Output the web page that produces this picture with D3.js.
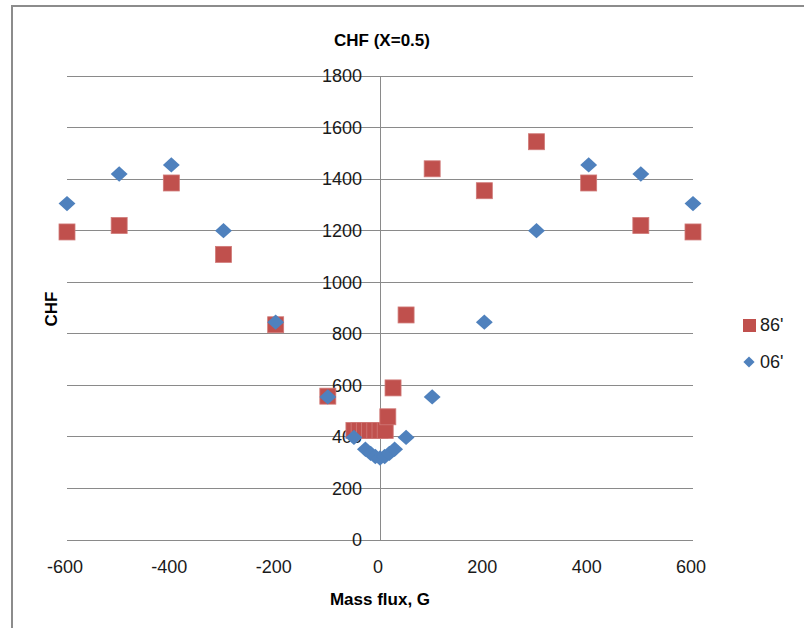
<!DOCTYPE html>
<html>
<head>
<meta charset="utf-8">
<script src="https://cdn.jsdelivr.net/npm/d3@7"></script>
<style>
body { margin: 0; background: white; }
</style>
</head>
<body>
<svg id="mySVG" width="804" height="628"></svg>
<script>
//---data---
var TitleText = "CHF (X=0.5)"
var XTitle = "Mass flux, G"
var YTitle = "CHF"
var XTicks = [-600, -400, -200, 0, 200, 400, 600]
var YTicks = [0, 200, 400, 600, 800, 1000, 1200, 1400, 1600, 1800]

var G86 = [-600, -500, -400, -300, -200, -100, -50, -40, -30, -20, -10, 0, 10, 15, 25, 50, 100, 200, 300, 400, 500, 600]
var CHF86 = [1195, 1220, 1385, 1108, 835, 558, 425, 425, 425, 425, 425, 425, 425, 478, 590, 873, 1440, 1355, 1545, 1385, 1220, 1195]

var G06 = [-600, -500, -400, -300, -200, -100, -50, -28, -18, -9, 0, 9, 18, 28, 50, 100, 200, 300, 400, 500, 600]
var CHF06 = [1305, 1420, 1455, 1200, 845, 555, 398, 352, 336, 324, 318, 324, 336, 352, 398, 555, 845, 1200, 1455, 1420, 1305]

var Red = "#C0504D"
var Blue = "#4F81BD"
var GridCol = "#8a8a8a"
var Font = "'Liberation Sans', Arial, sans-serif"

var MySVG = d3.select("#mySVG")

//---outer chart frame (only top/left visible)---
MySVG.append("path")
.attr("d", "M12,640 V6 H810")
.attr("fill", "none")
.attr("stroke", "#8c8c8c")
.attr("stroke-width", 2)

var X = d3.scaleLinear().domain([-600, 600]).range([67, 693])
var Y = d3.scaleLinear().domain([0, 1800]).range([540, 76])

//---horizontal gridlines---
var GridG = MySVG.append("g").attr("id", "gridG")
GridG.selectAll("line")
.data(YTicks)
.join("line")
.attr("x1", X(-600))
.attr("x2", X(600))
.attr("y1", function(d){ return Y(d) })
.attr("y2", function(d){ return Y(d) })
.attr("stroke", GridCol)
.attr("stroke-width", 1)
.attr("shape-rendering", "crispEdges")

//---vertical axis at G=0---
MySVG.append("line")
.attr("x1", X(0))
.attr("x2", X(0))
.attr("y1", Y(1800))
.attr("y2", Y(0))
.attr("stroke", GridCol)
.attr("stroke-width", 1)
.attr("shape-rendering", "crispEdges")

//---y tick labels (left of the zero axis)---
MySVG.append("g")
.selectAll("text")
.data(YTicks)
.join("text")
.attr("x", X(0) - 18)
.attr("y", function(d){ return Y(d) })
.attr("dy", ".35em")
.attr("text-anchor", "end")
.attr("font-family", Font)
.attr("font-size", 18)
.attr("fill", "#1a1a1a")
.text(function(d){ return d })

//---x tick labels---
MySVG.append("g")
.selectAll("text")
.data(XTicks)
.join("text")
.attr("x", function(d){ return X(d) - 2 })
.attr("y", 573)
.attr("text-anchor", "middle")
.attr("font-family", Font)
.attr("font-size", 18)
.attr("fill", "#1a1a1a")
.text(function(d){ return d })

//---titles---
MySVG.append("text")
.attr("x", 382)
.attr("y", 46)
.attr("text-anchor", "middle")
.attr("font-family", Font)
.attr("font-size", 17)
.attr("font-weight", "bold")
.text(TitleText)

MySVG.append("text")
.attr("x", 380)
.attr("y", 605)
.attr("text-anchor", "middle")
.attr("font-family", Font)
.attr("font-size", 17)
.attr("font-weight", "bold")
.text(XTitle)

MySVG.append("text")
.attr("transform", "translate(57,309) rotate(-90)")
.attr("text-anchor", "middle")
.attr("font-family", Font)
.attr("font-size", 17)
.attr("font-weight", "bold")
.text(YTitle)

//---series markers---
var PtsG = MySVG.append("g").attr("id", "ptsG")
var Pts86 = G86.map(function(g, i){ return [g, CHF86[i]] })
var Pts06 = G06.map(function(g, i){ return [g, CHF06[i]] })

PtsG.selectAll("rect.s86")
.data(Pts86)
.join("rect")
.attr("class", "s86")
.attr("x", function(d){ return X(d[0]) - 8 })
.attr("y", function(d){ return Y(d[1]) - 8 })
.attr("width", 16)
.attr("height", 16)
.attr("fill", Red)
.attr("stroke", "#d07a78")
.attr("stroke-width", 0.8)

var Diamond = d3.symbol().type(d3.symbolDiamond2).size(150)
PtsG.selectAll("path.s06")
.data(Pts06)
.join("path")
.attr("class", "s06")
.attr("d", Diamond)
.attr("transform", function(d){ return "translate(" + X(d[0]) + "," + Y(d[1]) + ") scale(1.1,1)" })
.attr("fill", Blue)

//---legend---
var LegG = MySVG.append("g").attr("id", "legendG")
LegG.append("rect")
.attr("x", 743)
.attr("y", 319)
.attr("width", 13)
.attr("height", 13)
.attr("fill", Red)
LegG.append("text")
.attr("x", 760)
.attr("y", 325)
.attr("dy", ".35em")
.attr("font-family", Font)
.attr("font-size", 18)
.attr("fill", "#1a1a1a")
.text("86'")
LegG.append("path")
.attr("d", d3.symbol().type(d3.symbolDiamond2).size(80))
.attr("transform", "translate(749,362)")
.attr("fill", Blue)
LegG.append("text")
.attr("x", 760)
.attr("y", 362)
.attr("dy", ".35em")
.attr("font-family", Font)
.attr("font-size", 18)
.attr("fill", "#1a1a1a")
.text("06'")
</script>
</body>
</html>
